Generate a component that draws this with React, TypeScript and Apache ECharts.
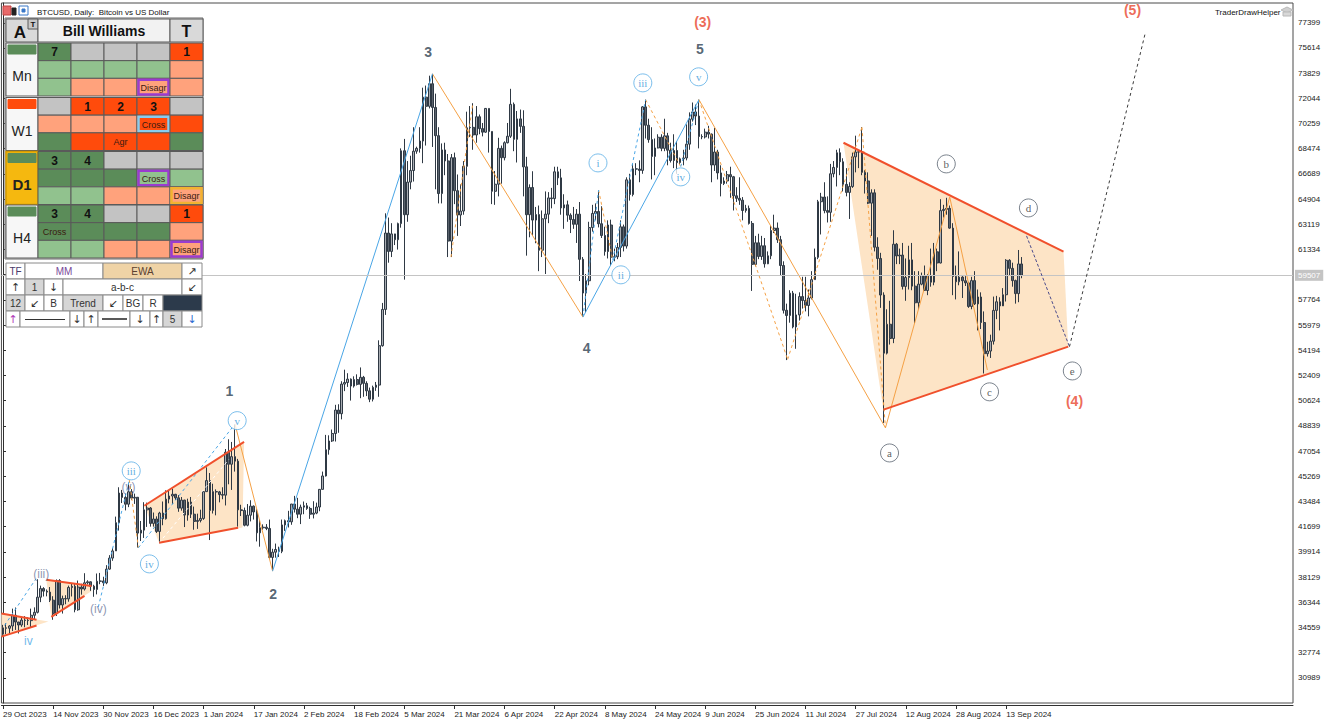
import React, { useEffect, useRef } from "react";
import * as echarts from "echarts";

// ---- Daily BTCUSD candles, one row per day: [open, close, low, high] ----
const oct2023 = [
  [34080, 34530, 33950, 34740], [34530, 34500, 34080, 34850], [34500, 34660, 34100, 34720],
];
const nov2023 = [
  [34660, 35420, 34300, 35890], [35420, 34940, 34380, 35970], [34940, 34730, 34130, 34950],
  [34730, 35080, 34600, 35250], [35080, 35050, 34570, 35360], [35050, 35040, 34730, 35280],
  [35040, 35420, 34540, 35890], [35420, 35630, 35110, 35980], [35630, 36700, 35550, 37970],
  [36700, 37310, 36350, 37520], [37310, 37130, 36750, 37410], [37130, 37060, 36760, 37250],
  [37060, 36490, 36360, 37420], [36490, 35550, 35100, 36770], [35550, 37880, 35370, 37960],
  [37880, 36150, 35900, 37980], [36150, 36600, 35540, 36810], [36600, 36580, 36200, 36840],
  [36580, 37390, 36380, 37520], [37390, 37470, 36750, 37700], [37470, 35810, 35630, 37670],
  [35810, 37420, 35740, 37880], [37420, 37280, 36880, 37650], [37280, 37720, 37170, 38400],
  [37720, 37790, 37600, 37900], [37790, 37480, 37150, 37820], [37480, 37250, 36730, 37580],
  [37250, 37830, 36900, 38380], [37830, 37850, 37620, 38420], [37850, 37720, 37500, 38150],
];
const dec2023 = [
  [37720, 38690, 37620, 38970], [38690, 39470, 38650, 39680], [39470, 39980, 39280, 40200],
  [39980, 41980, 39980, 42410], [41980, 44080, 41420, 44490], [44080, 43770, 43370, 44300],
  [43770, 43290, 42850, 44040], [43290, 44170, 43080, 44700], [44170, 43720, 43600, 44360],
  [43720, 43780, 43310, 44040], [43780, 41240, 40220, 43800], [41240, 41450, 40680, 42100],
  [41450, 42890, 40900, 43430], [42890, 43020, 41680, 43400], [43020, 41930, 41700, 43090],
  [41930, 42240, 41700, 42700], [42240, 41360, 41250, 42430], [41360, 42660, 40530, 42750],
  [42660, 42260, 41800, 43480], [42260, 43650, 42200, 44270], [43650, 43870, 43350, 44240],
  [43870, 43990, 43310, 44400], [43990, 43740, 43590, 44020], [43740, 43010, 42750, 43940],
  [43010, 43580, 42830, 43800], [43580, 42520, 41670, 43600], [42520, 43440, 42120, 43680],
  [43440, 42580, 42310, 43800], [42580, 42070, 41480, 43120], [42070, 42140, 41540, 42620],
  [42140, 42280, 42000, 42900],
];
const jan2024 = [
  [42280, 44180, 42180, 44180], [44180, 44960, 44180, 45900], [44960, 42850, 40750, 45500],
  [42850, 44180, 42630, 44740], [44180, 44160, 42500, 44340], [44160, 43970, 43420, 44230],
  [43970, 43930, 43640, 44490], [43930, 46970, 43200, 47200], [46970, 46120, 44700, 47890],
  [46120, 46660, 44300, 47700], [46660, 46340, 45600, 48970], [46340, 42890, 41700, 46500],
  [42890, 42840, 42450, 43250], [42840, 41800, 41720, 43050], [41800, 42510, 41720, 43300],
  [42510, 43150, 42070, 43570], [43150, 42740, 42200, 43200], [42740, 41260, 40650, 42930],
  [41260, 41620, 40280, 42180], [41620, 41660, 41480, 41860], [41660, 41570, 41450, 41880],
  [41570, 39520, 39430, 42200], [39520, 39890, 38550, 40130], [39890, 40080, 39500, 40500],
  [40080, 39950, 39550, 40280], [39950, 41820, 39820, 42200], [41820, 42120, 41400, 42200],
  [42120, 42040, 41640, 42820], [42040, 43300, 41830, 43310], [43300, 42940, 42700, 43880],
  [42940, 42580, 42300, 43740],
];
const feb2024 = [
  [42580, 43080, 41880, 43260], [43080, 43180, 42580, 43480], [43180, 42990, 42890, 43380],
  [42990, 42580, 42250, 43110], [42580, 42660, 42280, 43500], [42660, 43090, 42580, 43400],
  [43090, 44340, 42790, 44350], [44340, 45290, 44330, 45600], [45290, 47150, 45250, 48200],
  [47150, 47770, 46800, 48170], [47770, 48300, 47700, 48580], [48300, 49960, 47730, 50330],
  [49960, 49700, 48350, 50370], [49700, 51800, 49300, 52000], [51800, 51910, 51300, 52820],
  [51910, 52150, 51600, 52570], [52150, 51660, 50630, 52200], [51660, 52120, 51550, 52350],
  [52120, 51780, 51700, 52490], [51780, 52280, 50800, 52980], [52280, 51850, 50900, 52380],
  [51850, 51320, 50950, 52000], [51320, 50730, 50520, 51550], [50730, 51570, 50570, 51690],
  [51570, 51730, 51320, 51950], [51730, 54520, 50900, 54900], [54520, 57090, 54450, 57550],
  [57090, 62500, 56700, 63900], [62500, 61200, 60400, 63600],
];
const mar2024 = [
  [61200, 62440, 60800, 63200], [62440, 62030, 61650, 62400], [62030, 63170, 61330, 63240],
  [63170, 68330, 62880, 68500], [68330, 63800, 59200, 69170], [63800, 66110, 63300, 67600],
  [66110, 66930, 65600, 67980], [66930, 68300, 66150, 70000], [68300, 68500, 68120, 68620],
  [68500, 69020, 68200, 70000], [69020, 72130, 67450, 72800], [72130, 71480, 68700, 72950],
  [71480, 73080, 71330, 73650], [73080, 71400, 68600, 73780], [71400, 69400, 65600, 72380],
  [69400, 65300, 64600, 70000], [65300, 68390, 64600, 68850], [68390, 67610, 66600, 68900],
  [67610, 61930, 60800, 68100], [61930, 67840, 60800, 68100], [67840, 65500, 64550, 68200],
  [65500, 63780, 62300, 66650], [63780, 64060, 63000, 65950], [64060, 67230, 63800, 67600],
  [67230, 69960, 66600, 71100], [69960, 69990, 69300, 71500], [69990, 69450, 68400, 71700],
  [69450, 70740, 68900, 71500], [70740, 69900, 69500, 70900], [69900, 69650, 69350, 70300],
  [69650, 71330, 69600, 71360],
];
const apr2024 = [
  [71330, 69700, 68200, 71330], [69700, 65460, 64550, 69700], [65460, 65960, 64500, 66900],
  [65960, 68500, 65100, 69250], [68500, 67840, 66000, 68700], [67840, 68900, 67650, 69000],
  [68900, 69360, 68850, 70300], [69360, 71620, 69240, 72720], [71620, 69140, 68300, 71750],
  [69140, 70590, 67500, 71150], [70590, 70060, 69600, 71250], [70060, 67190, 65100, 71200],
  [67190, 63800, 60900, 67900], [63800, 65730, 62200, 65950], [65730, 63420, 62300, 66880],
  [63420, 63810, 61780, 64350], [63810, 61280, 59800, 64450], [61280, 63510, 60800, 64100],
  [63510, 63840, 59600, 65450], [63840, 64990, 63200, 65400], [64990, 64940, 64250, 65700],
  [64940, 66840, 64550, 67200], [66840, 66410, 65900, 67200], [66410, 64280, 63800, 67050],
  [64280, 64500, 62800, 65250], [64500, 63770, 63300, 64800], [63770, 63460, 62500, 63900],
  [63460, 63120, 62800, 64350], [63120, 63840, 61800, 64200], [63840, 60640, 59100, 64700],
];
const may2024 = [
  [60640, 58250, 56550, 60800], [58250, 59120, 56900, 59600], [59120, 62890, 58800, 63300],
  [62890, 63890, 62600, 64500], [63890, 64030, 63400, 64600], [64030, 63160, 62900, 65500],
  [63160, 62330, 62150, 64400], [62330, 61190, 60900, 62950], [61190, 63070, 60700, 63400],
  [63070, 60790, 60200, 63450], [60790, 60820, 60500, 61400], [60820, 61480, 60650, 61800],
  [61480, 62940, 60800, 63400], [62940, 61580, 61200, 63100], [61580, 66270, 61400, 66450],
  [66270, 65230, 64800, 66700], [65230, 67050, 65100, 67400], [67050, 67030, 66600, 67450],
  [67030, 66940, 66100, 67650], [66940, 71440, 66700, 71500], [71440, 70140, 69200, 71950],
  [70140, 69120, 68900, 70600], [69120, 67930, 66300, 70000], [67930, 68530, 66600, 69200],
  [68530, 69290, 68500, 69500], [69290, 68500, 68300, 69500], [68500, 69390, 68300, 70600],
  [69390, 68370, 67300, 69600], [68370, 67640, 67500, 68900], [67640, 68350, 67100, 69500],
  [68350, 67490, 66700, 69000],
];
const jun2024 = [
  [67490, 67760, 67400, 67850], [67760, 67820, 67300, 68400], [67820, 68800, 67650, 70200],
  [68800, 70570, 68400, 71050], [70570, 71080, 70400, 71750], [71080, 70790, 70150, 71600],
  [70790, 69340, 68500, 71950], [69340, 69310, 69150, 69500], [69310, 69650, 69200, 69900],
  [69650, 69510, 69200, 70100], [69510, 67320, 66100, 69550], [67320, 68240, 66900, 69950],
  [68240, 66760, 66300, 68400], [66760, 66010, 65100, 67300], [66010, 66190, 65900, 66450],
  [66190, 66640, 66000, 66900], [66640, 66490, 65000, 67200], [66490, 65140, 64100, 66550],
  [65140, 64960, 64700, 65750], [64960, 64830, 64500, 66450], [64830, 64100, 63400, 65050],
  [64100, 64250, 63950, 64500], [64250, 63180, 63100, 64450], [63180, 60280, 58400, 63350],
  [60280, 61810, 60150, 62300], [61810, 60840, 60650, 62450], [60840, 61600, 60600, 62300],
  [61600, 60320, 60050, 62150], [60320, 60890, 60300, 61200], [60890, 62680, 60650, 63000],
];
const jul2024 = [
  [62680, 62850, 62500, 63800], [62850, 62030, 61800, 63250], [62030, 60200, 59500, 62300],
  [60200, 57030, 56800, 60500], [57030, 56660, 53500, 57500], [56660, 58240, 56150, 58450],
  [58240, 55850, 55750, 58400], [55850, 56700, 54300, 58200], [56700, 58000, 56300, 58300],
  [58000, 57720, 57150, 59400], [57720, 57370, 56950, 59400], [57370, 57900, 56600, 58500],
  [57900, 59200, 57800, 59800], [59200, 60780, 59200, 61400], [60780, 64720, 60650, 64850],
  [64720, 65050, 62400, 65350], [65050, 64090, 63900, 66100], [64090, 63970, 63250, 65100],
  [63970, 66700, 63300, 67400], [66700, 67150, 66450, 67600], [67150, 68190, 65800, 68400],
  [68190, 67550, 66600, 68500], [67550, 65950, 65450, 67800], [65950, 65380, 65100, 67100],
  [65380, 65800, 63500, 66100], [65800, 67900, 65700, 68200], [67900, 68240, 66800, 69400],
  [68240, 68250, 67100, 68300], [68250, 66800, 66600, 70000], [66800, 66190, 65300, 66950],
  [66190, 64620, 64550, 66800],
];
const aug2024 = [
  [64620, 65350, 62300, 65600], [65350, 61500, 61200, 65600], [61500, 60700, 59900, 62200],
  [60700, 58110, 57200, 61100], [58110, 53990, 49050, 58300], [53990, 56040, 53900, 57100],
  [56040, 55030, 54600, 57700], [55030, 61710, 54700, 62700], [61710, 60880, 60300, 61800],
  [60880, 60940, 60300, 61400], [60940, 58720, 58500, 61800], [58720, 59350, 57700, 60700],
  [59350, 60600, 58500, 61600], [60600, 58740, 58450, 61800], [58740, 57560, 56100, 59800],
  [57560, 58880, 57100, 59800], [58880, 59490, 58800, 59700], [59490, 58430, 58400, 60200],
  [58430, 59480, 58100, 59600], [59480, 59020, 58700, 61400], [59020, 61170, 58800, 61800],
  [61170, 60380, 59800, 61400], [60380, 64090, 60350, 64900], [64090, 64180, 63600, 64500],
  [64180, 64250, 63800, 65000], [64250, 62850, 62800, 64450], [62850, 59420, 58100, 63200],
  [59420, 59050, 57800, 60200], [59050, 59380, 58800, 61200], [59380, 59120, 57900, 59450],
  [59120, 58970, 58750, 59450],
];
const sep2024 = [
  [58970, 57300, 57200, 59050], [57300, 59130, 57100, 59400], [59130, 57480, 57400, 59800],
  [57480, 57970, 55600, 58500], [57970, 56160, 55700, 58300], [56160, 53950, 52550, 56950],
  [53950, 54140, 53750, 54800], [54140, 54840, 53650, 55300], [54840, 57020, 54600, 58000],
  [57020, 57630, 56400, 58050], [57630, 57340, 55600, 57950], [57340, 58130, 57400, 58600],
  [58130, 60570, 57650, 60650], [60570, 60000, 59500, 60650], [60000, 59130, 58700, 60400],
  [59130, 58210, 57500, 59200], [58210, 60310, 57600, 61300], [60310, 59507, 59300, 60800],
];

// ---- Axes ----
const FIRST_DAY_UTC = Date.UTC(2023, 9, 29);
const AXIS_DAYS = 412; // history plus empty space on the right
const LABEL_EVERY = 16;
const PRICE_FLOOR = 29204;
const PRICE_CEIL = 78800;
const PRICE_STEP = 1785;
const LAST_PRICE = 59507;
const MONTHS = ["Jan", "Feb", "Mar", "Apr", "May", "Jun", "Jul", "Aug", "Sep", "Oct", "Nov", "Dec"];

// ---- Wave drawing, points as [day index, price] ----
const blueLegs = [
  [[86, 38550], [137, 73780]],
  [[185, 56550], [222, 71950]],
];
const orangeLegs = [
  [[74, 48970], [86, 38550]],
  [[137, 73780], [185, 56550]],
  [[222, 71950], [281.5, 48700]],
  [[281.5, 48700], [302, 65050]],
  [[302, 65050], [314, 52800]],
];
const blueDashLegs = [
  [[0.5, 34700], [10.5, 38000]],
  [[30.4, 36000], [40.3, 45000]],
  [[43.2, 40200], [74, 48970]],
  [[185, 56550], [190, 65550]],
  [[194.5, 60600], [205, 71950]],
  [[216.2, 67200], [222, 71950]],
];
const orangeDashLegs = [
  [[40.3, 45000], [43.2, 40200]],
  [[142.9, 60800], [149.9, 71730]],
  [[190, 65550], [194.5, 60600]],
  [[205, 71950], [216.2, 67200]],
  [[222, 71950], [250.3, 53550]],
  [[250.3, 53550], [274, 70000]],
  [[274, 70000], [281.5, 48700]],
];
const redBoundaries = [
  [[-0.5, 35540], [10.7, 35110]],
  [[-0.5, 33910], [10.7, 34690]],
  [[13.8, 37930], [28.2, 37500]],
  [[15.4, 35310], [26, 36800]],
  [[45.1, 43180], [76.9, 47710]],
  [[49.8, 40560], [75, 41620]],
  [[268.1, 68900], [338.3, 61180]],
  [[280.9, 49990], [339.8, 54450]],
];
const shadedZones = [
  [[-0.5, 35540], [14.5, 34970], [-0.5, 33910]],
  [[13.8, 37930], [28.2, 37500], [28.2, 37120], [15.4, 35310]],
  [[45.1, 43180], [76.9, 47710], [76.4, 41640], [49.8, 40560]],
  [[268.1, 68900], [338.3, 61180], [339.8, 54450], [280.8, 50000]],
];
const wedgeMidline = [[49.8, 40560], [72, 46450]];
const projectionDE = [[326.5, 62300], [340.2, 54450]];
const projectionE5 = [[340.2, 54450], [364.4, 76700]];

// ---- Wave labels: [text, day index, price] ----
const primaryLabels = [["1", 72.2, 51310], ["2", 86.2, 36960], ["3", 135.6, 75340], ["4", 186.2, 54380], ["5", 222.3, 75550]];
const cycleLabels = [["(3)", 223.2, 77470], ["(4)", 341.8, 50620], ["(5)", 360.3, 78300]];
const minorCircled = [
  ["iii", 40.9, 45650], ["iv", 46.7, 39060], ["v", 74.7, 49210],
  ["i", 189.8, 67470], ["ii", 197.1, 59540], ["iii", 204.1, 73140], ["iv", 216.2, 66480], ["v", 221.9, 73570],
];
const triangleCircled = [["a", 282.8, 46920], ["b", 300.9, 67400], ["c", 314.7, 51250], ["d", 327.1, 64280], ["e", 341.1, 52730]];
const subLabels = [["(iii)", 12.2, 38330], ["(iv)", 30.4, 35850], ["(v)", 40, 44530]];
const subMinorLabels = [["iv", 8.1, 33570]];

// ---- Bill Williams panel ----
const timeframes = ["Mn", "W1", "D1", "H4"];
const timeframeBars = ["#5b8c59", "#ff4b0c", "#5b8c59", "#5b8c59"];
// cell = "fill|text|frame"
const mnCells = [
  ["G|7", "x", "x", "x", "R|1"],
  ["g", "g", "g", "g", "s"],
  ["g", "s", "s", "s|Disagr|purple", "s"],
];
const w1Cells = [
  ["x", "R|1", "R|2", "R|3", "x"],
  ["s", "s", "s", "R|Cross|sky", "R"],
  ["G", "R", "R|Agr", "R", "G"],
];
const d1Cells = [
  ["G|3", "G|4", "x", "x", "x"],
  ["G", "G", "G", "g|Cross|purple", "g"],
  ["g", "g", "s", "s", "s|Disagr|gold"],
];
const h4Cells = [
  ["G|3", "G|4", "x", "x", "R|1"],
  ["G|Cross", "G", "G", "G", "s"],
  ["g", "g", "s", "s", "s|Disagr|purple"],
];
const CELL_FILLS: Record<string, string> = { G: "#5b8c59", g: "#91c28e", x: "#c3c3c3", R: "#ff4b0c", s: "#ffa27c" };
const FRAME_COLORS: Record<string, string> = { purple: "#9a3ccf", sky: "#86cdf0", gold: "#f2b330" };

// control strip rows: [x0, x1, text, fill, text colour]
const controlRows: [number, number, string, string, string][][] = [
  [[6, 25, "TF", "#ffffff", "#4a3a6a"], [25, 103, "MM", "#ffffff", "#7a4a9a"], [103, 182, "EWA", "#efd3a6", "#5a4030"], [182, 202, "↗", "#ffffff", "#333333"]],
  [[6, 25, "↑", "#ffffff", "#333333"], [25, 44, "1", "#d6d6d6", "#333333"], [44, 63, "↓", "#ffffff", "#333333"], [63, 182, "a-b-c", "#ffffff", "#333333"], [182, 202, "↙", "#ffffff", "#333333"]],
  [[6, 25, "12", "#d6d6d6", "#333333"], [25, 44, "↙", "#ffffff", "#333333"], [44, 63, "B", "#ffffff", "#333333"], [63, 103, "Trend", "#d6d6d6", "#333333"], [103, 123, "↙", "#ffffff", "#333333"], [123, 143, "BG", "#ffffff", "#333333"], [143, 163, "R", "#ffffff", "#333333"], [163, 202, "", "#2c3a4b", "#ffffff"]],
  [[6, 20, "↑", "#ffffff", "#b03ab8"], [20, 70, "", "#ffffff", "#333333"], [70, 84, "↓", "#ffffff", "#333333"], [84, 98, "↑", "#ffffff", "#333333"], [98, 130, "", "#ffffff", "#333333"], [130, 150, "↓", "#ffffff", "#333333"], [150, 163, "↑", "#ffffff", "#333333"], [163, 182, "5", "#d6d6d6", "#333333"], [182, 202, "↓", "#ffffff", "#2a6ad0"]],
];

const SANS = "Liberation Sans";
const SERIF = "Liberation Serif";

function buildPanel(): any[] {
  const els: any[] = [];
  const rect = (x: number, y: number, w: number, h: number, fill: string, stroke = "#5a5a5a", lw = 1) =>
    els.push({ type: "rect", z: 100, silent: true, shape: { x, y, width: w, height: h }, style: { fill, stroke, lineWidth: lw } });
  const text = (x: number, y: number, t: string, font: string, fill: string, align = "center") =>
    els.push({
      type: "text", z: 101, silent: true, x, y,
      style: { text: t, font, fill, textAlign: align, textVerticalAlign: "middle", align, verticalAlign: "middle" },
    });

  // title strip
  rect(3, 6, 8, 9, "#e86a6a", "#c04040");
  rect(12, 8, 4, 7, "#222222", "#222222");
  rect(19, 6, 9, 9, "#ffffff", "#3a78c8");
  rect(22, 9, 3, 3, "#3a78c8", "#3a78c8");
  text(37, 12, "BTCUSD, Daily:  Bitcoin vs US Dollar", `8px ${SANS}`, "#111111", "left");
  text(1215, 12, "TraderDrawHelper", `8px ${SANS}`, "#111111", "left");
  els.push({ type: "polygon", z: 100, silent: true, shape: { points: [[1281, 10], [1287, 7], [1293, 10], [1287, 13]] }, style: { fill: "#d0d0d0", stroke: "#b8b8b8" } });
  rect(1283, 12, 8, 4, "#d8d8d8", "#b8b8b8");

  // panel body
  rect(5, 18, 198, 241, "#ffffff", "#666666");
  rect(6, 19, 32, 23, "#d9d9d9");
  text(20, 32, "A", `bold 17px ${SANS}`, "#111111");
  rect(28, 19, 10, 10, "#c8c8c8");
  text(33, 24.5, "T", `bold 8px ${SANS}`, "#111111");
  rect(38, 19, 132, 23, "#f2f2f2");
  text(104, 31, "Bill Williams", `bold 14px ${SANS}`, "#111111");
  rect(170, 19, 33, 23, "#d9d9d9");
  text(186.5, 31, "T", `bold 16px ${SANS}`, "#111111");

  const cols = [38, 71, 104, 137, 170, 203];
  const tops = [43, 97.5, 151.5, 205];
  const grids = [mnCells, w1Cells, d1Cells, h4Cells];
  const rowH = 53 / 3;
  grids.forEach((rows, b) => {
    const top = tops[b];
    const isDaily = timeframes[b] === "D1";
    rect(6, top, 32, 53, isDaily ? "#f5b80f" : "#f7f7f7", isDaily ? "#d49a00" : "#5a5a5a", isDaily ? 1.5 : 1);
    rect(8, top + 2, 28, 9, timeframeBars[b], timeframeBars[b]);
    text(22, top + 33, timeframes[b], isDaily ? `bold 15px ${SANS}` : `14px ${SANS}`, "#222222");
    rows.forEach((row, r) => {
      row.forEach((cell, c) => {
        const [fillKey, label, frame] = cell.split("|");
        const x = cols[c];
        const y = top + r * rowH;
        const w = cols[c + 1] - cols[c];
        rect(x, y, w, rowH, CELL_FILLS[fillKey]);
        if (frame) rect(x + 1.5, y + 1.5, w - 3, rowH - 3, CELL_FILLS[fillKey], FRAME_COLORS[frame], 2.5);
        if (label) {
          const numeric = /^\d+$/.test(label);
          text(x + w / 2, y + rowH / 2 + 0.5, label, numeric ? `bold 12px ${SANS}` : `9px ${SANS}`, numeric ? "#111111" : "#3a1a10");
        }
      });
    });
  });

  // control strip
  const rowTops = [263, 279, 295, 311, 327];
  controlRows.forEach((row, r) => {
    const y0 = rowTops[r];
    const h = rowTops[r + 1] - y0;
    row.forEach(([x0, x1, t, fill, color]) => {
      rect(x0, y0, x1 - x0, h, fill, "#8a8a8a");
      if (t) {
        const arrow = /[↑↓↗↙]/.test(t);
        text((x0 + x1) / 2, y0 + h / 2 + 0.5, t, arrow ? `11px DejaVu Sans` : `10px ${SANS}`, color);
      }
    });
  });
  els.push({ type: "line", z: 101, silent: true, shape: { x1: 25, y1: 319.5, x2: 65, y2: 319.5 }, style: { stroke: "#333333", lineWidth: 1 } });
  els.push({ type: "line", z: 101, silent: true, shape: { x1: 102, y1: 319, x2: 127, y2: 319 }, style: { stroke: "#222222", lineWidth: 1.5 } });
  return els;
}

function segmentSeries(legs: number[][][], color: string, width: number, type: any, z: number) {
  return legs.map((leg) => ({
    type: "line", xAxisIndex: 1, yAxisIndex: 0, z, silent: true, symbol: "none", animation: false,
    data: leg, lineStyle: { color, width, type },
  }));
}

function textSeries(items: any[][], label: any) {
  return {
    type: "scatter", xAxisIndex: 1, yAxisIndex: 0, z: 7, silent: true, clip: false,
    symbol: "circle", symbolSize: 1, itemStyle: { color: "rgba(0,0,0,0)" },
    data: items.map(([t, x, y]) => ({ name: t, value: [x, y] })),
    label: { show: true, position: "inside", formatter: "{b}", ...label },
  };
}

function circledSeries(items: any[][], stroke: string, color: string) {
  return {
    type: "scatter", xAxisIndex: 1, yAxisIndex: 0, z: 7, silent: true, clip: false,
    symbol: "circle", symbolSize: 18,
    itemStyle: { color: "#ffffff", borderColor: stroke, borderWidth: 1 },
    data: items.map(([t, x, y]) => ({ name: t, value: [x, y] })),
    label: { show: true, position: "inside", formatter: "{b}", color, fontFamily: SERIF, fontSize: 11 },
  };
}

export default function App() {
  const ref = useRef<HTMLDivElement>(null);

  useEffect(() => {
    document.body.style.margin = "0";
    if (!ref.current) return;
    const chart = echarts.init(ref.current, null, { renderer: "svg" });

    const candles = [
      ...oct2023, ...nov2023, ...dec2023, ...jan2024, ...feb2024, ...mar2024,
      ...apr2024, ...may2024, ...jun2024, ...jul2024, ...aug2024, ...sep2024,
    ];
    const lastIndex = candles.length - 1;
    const categories = Array.from({ length: AXIS_DAYS }, (_, i) => {
      const d = new Date(FIRST_DAY_UTC + i * 86400000);
      return `${d.getUTCDate()} ${MONTHS[d.getUTCMonth()]} ${d.getUTCFullYear()}`;
    });
    const showDate = (i: number) => i % LABEL_EVERY === 0 && i <= lastIndex;

    const zoneSeries = shadedZones.map((poly) => ({
      type: "custom", xAxisIndex: 1, yAxisIndex: 0, z: 1, silent: true,
      data: [poly[1]],
      renderItem: (_p: any, api: any) => ({
        type: "polygon",
        shape: { points: poly.map((pt) => api.coord(pt)) },
        style: { fill: "#fde4c6" },
      }),
    }));

    const option: any = {
      animation: false,
      backgroundColor: "#ffffff",
      textStyle: { fontFamily: SANS },
      grid: { left: 0, right: 39, top: 3, bottom: 22, show: true, borderColor: "#4a4a4a", borderWidth: 1 },
      xAxis: [
        {
          type: "category", data: categories, boundaryGap: true, offset: 2,
          axisLine: { show: true, lineStyle: { color: "#303030", width: 1 } },
          axisTick: { show: true, alignWithLabel: true, length: 4, interval: (i: number) => showDate(i), lineStyle: { color: "#303030" } },
          axisLabel: { interval: (i: number) => showDate(i), align: "left", margin: 5, fontSize: 8, color: "#1a1a1a", fontFamily: SANS },
          splitLine: { show: false },
        },
        { type: "value", min: -0.5, max: AXIS_DAYS - 0.5, show: false },
      ],
      yAxis: {
        type: "value", position: "right", min: PRICE_FLOOR, max: PRICE_CEIL, interval: PRICE_STEP,
        axisLine: { show: true, lineStyle: { color: "#303030" } },
        axisTick: { show: true, length: 3, lineStyle: { color: "#303030" } },
        axisLabel: {
          showMinLabel: false, showMaxLabel: false, fontSize: 8, margin: 5, color: "#1a1a1a", fontFamily: SANS,
          formatter: (v: number) => String(Math.round(v)),
        },
        splitLine: { show: false },
      },
      graphic: { elements: buildPanel() },
      series: [
        ...zoneSeries,
        {
          type: "line", xAxisIndex: 1, yAxisIndex: 0, z: 1, data: [], silent: true,
          markLine: {
            silent: true, symbol: ["none", "none"], animation: false,
            data: [{ yAxis: LAST_PRICE }],
            lineStyle: { color: "#c4c4c4", type: "solid", width: 1 },
            label: {
              show: true, position: "end", formatter: String(LAST_PRICE), distance: 2,
              backgroundColor: "#c4c4c4", color: "#ffffff", fontSize: 8, padding: [2, 3, 1, 3], fontFamily: SANS,
            },
          },
        },
        {
          type: "candlestick", xAxisIndex: 0, yAxisIndex: 0, z: 2, silent: true,
          data: candles, barWidth: 2.2,
          itemStyle: { color: "#a9adb3", color0: "#5a626c", borderColor: "#2f3944", borderColor0: "#2f3944", borderWidth: 1 },
        },
        ...segmentSeries([wedgeMidline], "#ffffff", 1, [3, 3], 3),
        ...segmentSeries(orangeDashLegs, "#f5a145", 1, [3, 3], 3),
        ...segmentSeries(blueDashLegs, "#4aa6e6", 1, [3, 3], 3),
        ...segmentSeries(orangeLegs, "#f5a145", 1, "solid", 4),
        ...segmentSeries(blueLegs, "#4aa6e6", 1, "solid", 4),
        ...segmentSeries(redBoundaries, "#f0502c", 2, "solid", 5),
        ...segmentSeries([projectionDE], "#4b4b8c", 1, [3, 2], 5),
        ...segmentSeries([projectionE5], "#3a3a3a", 1, [3, 3], 5),
        textSeries(primaryLabels, { color: "#2d3e50", fontSize: 14, fontWeight: "bold", fontFamily: SANS }),
        textSeries(cycleLabels, { color: "#e8452c", fontSize: 14, fontWeight: "bold", fontFamily: SANS }),
        textSeries(subLabels, { color: "#6f7aa0", fontSize: 12, fontFamily: SANS }),
        textSeries(subMinorLabels, { color: "#4aa6e6", fontSize: 12, fontFamily: SANS }),
        circledSeries(minorCircled, "#5aaee6", "#3a98d8"),
        circledSeries(triangleCircled, "#5a6470", "#333333"),
      ],
    };

    chart.setOption(option);
    return () => chart.dispose();
  }, []);

  return <div ref={ref} style={{ width: 1332, height: 725 }} />;
}
